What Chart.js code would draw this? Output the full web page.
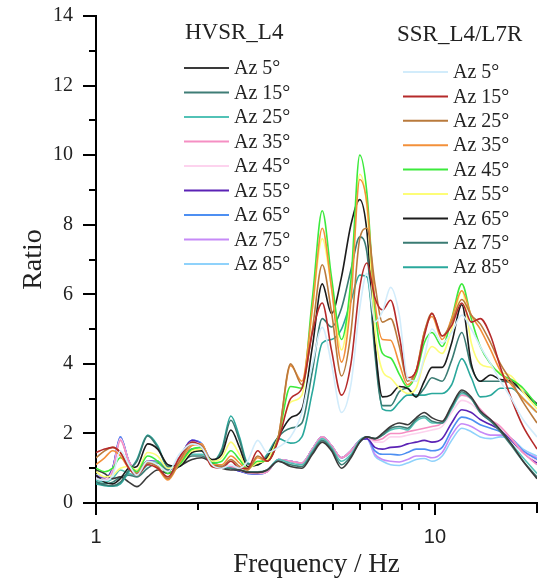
<!DOCTYPE html>
<html lang="en">
<head>
  <meta charset="UTF-8">
  <title>HVSR_L4 / SSR_L4/L7R ratio</title>
  <style>
    html, body { margin: 0; padding: 0; background: #fff; }
    .chart-box { width: 542px; height: 580px; }
  </style>
</head>
<body>
  <div class="chart-box"><canvas id="ratio-chart" width="542" height="580"></canvas></div>

  <script src="https://cdn.jsdelivr.net/npm/chart.js@4.4.0/dist/chart.umd.min.js"></script>
  <script>
    // frequency grid (Hz)
    const FREQ = [
      1.0, 1.06, 1.12, 1.18, 1.25, 1.32, 1.42, 1.52, 1.63, 1.76,
      1.92, 2.05, 2.2, 2.35, 2.5, 2.65, 2.8, 3.0, 3.2, 3.45,
      3.75, 4.05, 4.35, 4.65, 4.95, 5.3, 5.65, 6.0, 6.3, 6.65,
      7.0, 7.4, 7.85, 8.3, 8.8, 9.3, 9.8, 10.5, 11.2, 12.0,
      12.8, 13.6, 14.6, 15.6, 16.8, 18.2, 20
    ];

    const AZ_LABELS = ['Az 5°', 'Az 15°', 'Az 25°', 'Az 35°', 'Az 45°', 'Az 55°', 'Az 65°', 'Az 75°', 'Az 85°'];
    const HVSR_TITLE = 'HVSR_L4';
    const SSR_TITLE = 'SSR_L4/L7R';
    const HVSR_COLORS = ['#3a3a3a', '#3f7d76', '#52c2b6', '#f58fc3', '#fdd3ee', '#5b22b5', '#4d8ff2', '#c68af7', '#8fd2fb'];
    const SSR_COLORS = ['#d2ecfb', '#b52a2a', '#b97a3c', '#f3903a', '#3cea3c', '#fdfd77', '#1c1c1c', '#3a7b73', '#2aa89c'];

    const Y_TICKS = [0, 1, 2, 3, 4, 5, 6, 7, 8, 9, 10, 11, 12, 13, 14];
    const X_TICKS = [1, 2, 3, 4, 5, 6, 7, 8, 9, 10, 20];
    const X_LABELED = [1, 10];

    // HVSR_L4
    const HVSR_AZ5 = [
      0.95, 0.85, 0.70, 0.75, 0.60, 0.47, 0.75, 0.95, 0.85, 1.05,
      1.25, 1.30, 1.15, 1.00, 0.95, 0.95, 0.88, 0.88, 0.95, 1.20,
      1.05, 1.00, 1.40, 1.75, 1.50, 1.00, 1.30, 1.75, 1.90, 1.85,
      2.00, 2.20, 2.30, 2.25, 2.45, 2.60, 2.45, 2.35, 2.80, 3.25,
      3.05, 2.65, 2.40, 2.10, 1.70, 1.20, 0.70
    ];
    const HVSR_AZ15 = [
      0.60, 0.55, 0.60, 0.75, 0.80, 0.75, 1.00, 1.15, 0.95, 1.10,
      1.35, 1.35, 1.15, 1.00, 1.00, 0.95, 0.90, 0.88, 0.95, 1.20,
      1.10, 1.05, 1.45, 1.80, 1.55, 1.10, 1.35, 1.75, 1.90, 1.85,
      1.95, 2.15, 2.20, 2.15, 2.40, 2.50, 2.35, 2.30, 2.75, 3.20,
      3.00, 2.60, 2.35, 2.05, 1.65, 1.20, 0.75
    ];
    const HVSR_AZ25 = [
      0.65, 0.60, 0.70, 0.95, 0.85, 0.80, 1.10, 1.20, 1.00, 1.15,
      1.40, 1.40, 1.20, 1.05, 1.00, 0.95, 0.90, 0.90, 0.95, 1.25,
      1.15, 1.10, 1.50, 1.85, 1.60, 1.20, 1.40, 1.80, 1.90, 1.85,
      1.95, 2.10, 2.15, 2.10, 2.35, 2.45, 2.30, 2.30, 2.70, 3.15,
      3.00, 2.60, 2.35, 2.10, 1.70, 1.30, 0.85
    ];
    const HVSR_AZ35 = [
      0.70, 0.65, 0.90, 1.80, 1.20, 0.90, 1.15, 1.20, 0.95, 1.30,
      1.70, 1.60, 1.15, 1.05, 1.05, 0.95, 0.88, 0.86, 0.90, 1.25,
      1.20, 1.15, 1.55, 1.90, 1.65, 1.30, 1.50, 1.80, 1.90, 1.80,
      1.85, 2.00, 2.00, 2.05, 2.10, 2.15, 2.20, 2.30, 2.75, 3.10,
      3.00, 2.70, 2.40, 2.20, 1.85, 1.45, 1.10
    ];
    const HVSR_AZ45 = [
      0.72, 0.68, 0.95, 1.85, 1.20, 0.90, 1.15, 1.20, 0.95, 1.30,
      1.75, 1.65, 1.15, 1.05, 1.05, 0.95, 0.87, 0.85, 0.90, 1.25,
      1.20, 1.15, 1.55, 1.90, 1.65, 1.30, 1.50, 1.80, 1.90, 1.75,
      1.75, 1.90, 1.90, 1.95, 2.00, 2.05, 2.10, 2.20, 2.60, 2.95,
      2.85, 2.60, 2.35, 2.15, 1.85, 1.45, 1.20
    ];
    const HVSR_AZ55 = [
      0.75, 0.70, 1.00, 1.85, 1.20, 0.90, 1.20, 1.20, 0.92, 1.30,
      1.80, 1.65, 1.15, 1.05, 1.00, 0.92, 0.86, 0.84, 0.90, 1.25,
      1.20, 1.15, 1.55, 1.90, 1.65, 1.30, 1.50, 1.80, 1.85, 1.60,
      1.55, 1.60, 1.62, 1.70, 1.75, 1.80, 1.75, 1.85, 2.30, 2.68,
      2.60, 2.40, 2.25, 2.10, 1.80, 1.45, 1.15
    ];
    const HVSR_AZ65 = [
      0.75, 0.70, 1.00, 1.90, 1.20, 0.90, 1.20, 1.20, 0.92, 1.30,
      1.80, 1.70, 1.15, 1.05, 1.00, 0.92, 0.85, 0.83, 0.90, 1.25,
      1.20, 1.15, 1.55, 1.90, 1.65, 1.30, 1.50, 1.80, 1.85, 1.50,
      1.40, 1.40, 1.38, 1.45, 1.55, 1.55, 1.50, 1.60, 2.10, 2.47,
      2.40, 2.25, 2.15, 2.05, 1.85, 1.50, 1.25
    ];
    const HVSR_AZ75 = [
      0.80, 0.72, 1.00, 1.90, 1.20, 0.90, 1.20, 1.20, 0.92, 1.30,
      1.80, 1.70, 1.15, 1.05, 1.00, 0.92, 0.85, 0.83, 0.90, 1.25,
      1.20, 1.15, 1.55, 1.90, 1.65, 1.30, 1.50, 1.80, 1.85, 1.40,
      1.25, 1.20, 1.18, 1.25, 1.35, 1.35, 1.30, 1.45, 1.95, 2.28,
      2.20, 2.05, 1.95, 1.95, 1.85, 1.50, 1.30
    ];
    const HVSR_AZ85 = [
      0.82, 0.75, 1.00, 1.88, 1.20, 0.90, 1.20, 1.20, 0.92, 1.30,
      1.80, 1.70, 1.15, 1.05, 1.00, 0.92, 0.85, 0.83, 0.90, 1.25,
      1.20, 1.15, 1.55, 1.90, 1.65, 1.30, 1.50, 1.80, 1.85, 1.35,
      1.20, 1.10, 1.08, 1.15, 1.25, 1.28, 1.20, 1.35, 1.80, 2.15,
      2.05, 1.90, 1.85, 1.90, 1.85, 1.55, 1.35
    ];

    // SSR_L4/L7R
    const SSR_AZ5 = [
      0.70, 0.65, 0.80, 1.50, 1.10, 0.80, 1.20, 1.10, 0.90, 1.40,
      1.70, 1.60, 1.10, 1.00, 1.10, 1.00, 1.20, 1.80, 1.45, 1.60,
      1.90, 2.60, 4.00, 5.05, 4.00, 2.60, 3.40, 5.60, 6.60, 5.20,
      5.50, 6.20, 5.40, 3.60, 3.50, 4.20, 5.00, 4.60, 4.90, 5.40,
      5.00, 4.50, 4.00, 3.50, 3.00, 2.40, 1.90
    ];
    const SSR_AZ15 = [
      1.45, 1.55, 1.60, 1.45, 1.00, 0.80, 1.10, 1.00, 0.75, 1.30,
      1.75, 1.60, 1.05, 1.00, 1.20, 1.00, 1.00, 1.50, 1.20, 1.80,
      3.00, 3.30, 4.90, 5.75, 4.40, 3.10, 4.00, 6.20, 6.90, 5.90,
      5.55, 5.83, 4.80, 3.60, 3.80, 4.80, 5.45, 4.80, 5.10, 5.75,
      5.20, 5.30, 4.80, 3.90, 3.00, 2.20, 1.55
    ];
    const SSR_AZ25 = [
      1.30, 1.50, 1.60, 1.45, 1.05, 0.85, 1.15, 1.05, 0.70, 1.20,
      1.70, 1.65, 1.05, 1.05, 1.25, 1.05, 0.95, 1.35, 1.20, 1.90,
      4.00, 3.40, 5.00, 6.85, 5.50, 3.65, 4.90, 7.60, 7.90, 6.30,
      5.20, 5.30, 4.50, 3.50, 3.80, 4.90, 5.45, 4.80, 5.20, 5.85,
      5.40, 5.15, 4.60, 4.00, 3.50, 2.90, 2.30
    ];
    const SSR_AZ35 = [
      1.10, 1.30, 1.50, 1.35, 1.00, 0.85, 1.20, 1.00, 0.66, 1.15,
      1.65, 1.70, 1.10, 1.10, 1.35, 1.15, 0.95, 1.30, 1.20, 1.90,
      3.95, 3.50, 5.60, 7.90, 6.20, 4.05, 5.80, 9.30, 8.60, 5.80,
      4.70, 4.68, 4.00, 3.40, 3.80, 4.90, 5.36, 4.70, 5.30, 6.10,
      5.40, 5.00, 4.40, 3.80, 3.40, 3.00, 2.60
    ];
    const SSR_AZ45 = [
      1.00, 0.90, 1.00, 1.30, 1.10, 0.90, 1.35, 1.20, 0.85, 1.10,
      1.55, 1.60, 1.15, 1.20, 1.50, 1.25, 0.98, 1.20, 1.20, 1.90,
      3.35, 3.30, 5.90, 8.40, 6.50, 4.70, 6.40, 10.00, 8.90, 5.60,
      4.30, 4.17, 3.70, 3.34, 3.70, 4.60, 4.90, 4.50, 5.30, 6.30,
      5.30, 4.50, 4.00, 3.70, 3.55, 3.30, 2.80
    ];
    const SSR_AZ55 = [
      0.90, 0.75, 0.80, 1.00, 1.05, 0.95, 1.45, 1.35, 1.00, 1.10,
      1.50, 1.55, 1.20, 1.30, 1.75, 1.40, 1.00, 1.15, 1.25, 1.90,
      2.90, 3.10, 5.60, 7.60, 6.20, 4.40, 6.20, 9.45, 8.50, 5.00,
      3.80, 3.59, 3.30, 3.15, 3.30, 4.10, 4.50, 4.30, 5.00, 6.10,
      4.60, 4.00, 3.90, 3.75, 3.65, 3.20, 2.70
    ];
    const SSR_AZ65 = [
      0.80, 0.60, 0.55, 0.70, 1.00, 1.05, 1.70, 1.55, 1.10, 1.05,
      1.45, 1.50, 1.25, 1.40, 2.10, 1.60, 1.05, 1.10, 1.30, 1.90,
      2.45, 2.70, 4.50, 6.30, 5.45, 6.50, 8.00, 8.72, 7.80, 4.60,
      3.05, 3.10, 3.35, 3.30, 3.05, 3.50, 3.90, 3.90, 4.60, 5.70,
      4.00, 3.50, 3.68, 3.55, 3.50, 3.20, 2.85
    ];
    const SSR_AZ75 = [
      0.60, 0.52, 0.50, 0.60, 0.95, 1.20, 1.93, 1.60, 1.05, 1.10,
      1.55, 1.50, 1.20, 1.50, 2.38, 1.80, 1.12, 1.10, 1.35, 1.90,
      2.15, 2.30, 3.80, 5.30, 5.06, 5.60, 6.70, 7.65, 7.20, 4.30,
      2.80, 2.80, 3.20, 3.30, 3.05, 3.30, 3.60, 3.50, 4.10, 4.90,
      3.90, 3.50, 3.50, 3.50, 3.45, 3.20, 2.80
    ];
    const SSR_AZ85 = [
      0.55, 0.50, 0.48, 0.55, 0.90, 1.25, 1.95, 1.65, 1.03, 1.15,
      1.55, 1.50, 1.20, 1.55, 2.50, 1.90, 1.15, 1.10, 1.40, 1.85,
      1.72, 1.90, 3.20, 4.60, 4.70, 5.00, 5.80, 6.55, 6.50, 4.50,
      2.70, 2.65, 2.90, 3.10, 3.10, 3.10, 3.15, 3.15, 3.40, 4.15,
      3.60, 3.05, 3.10, 3.30, 3.30, 3.00, 2.60
    ];

    const HVSR_SERIES = [HVSR_AZ5, HVSR_AZ15, HVSR_AZ25, HVSR_AZ35, HVSR_AZ45, HVSR_AZ55, HVSR_AZ65, HVSR_AZ75, HVSR_AZ85];
    const SSR_SERIES = [SSR_AZ5, SSR_AZ15, SSR_AZ25, SSR_AZ35, SSR_AZ45, SSR_AZ55, SSR_AZ65, SSR_AZ75, SSR_AZ85];

    const SERIF = '"Liberation Serif", "Times New Roman", serif';
    const SANS = '"Liberation Sans", Arial, sans-serif';

    function toPoints(values) {
      return values.map((v, i) => ({ x: FREQ[i], y: v }));
    }

    function makeDataset(group, label, values, color) {
      return {
        label: group + ' ' + label,
        data: toPoints(values),
        borderColor: color,
        backgroundColor: color,
        borderWidth: 1.6,
        pointRadius: 0,
        cubicInterpolationMode: 'monotone',
        fill: false
      };
    }

    const datasets = [];
    SSR_SERIES.forEach((s, i) => datasets.push(makeDataset('SSR', AZ_LABELS[i], s, SSR_COLORS[i])));
    HVSR_SERIES.forEach((s, i) => datasets.push(makeDataset('HVSR', AZ_LABELS[i], s, HVSR_COLORS[i])));

    // outward tick marks: long for labelled values, short for the others
    const axisTicks = {
      id: 'axisTicks',
      afterDraw(chart) {
        const ctx = chart.ctx;
        const xs = chart.scales.x;
        const ys = chart.scales.y;
        ctx.save();
        ctx.strokeStyle = '#000';
        ctx.lineWidth = 2;
        for (const v of Y_TICKS) {
          const py = Math.round(ys.getPixelForValue(v));
          const len = v % 2 === 0 ? 13 : 7;
          ctx.beginPath();
          ctx.moveTo(xs.left - len, py);
          ctx.lineTo(xs.left, py);
          ctx.stroke();
        }
        for (const v of X_TICKS) {
          const px = Math.round(xs.getPixelForValue(v));
          const len = X_LABELED.includes(v) ? 12 : (v === 20 ? 10 : 7);
          ctx.beginPath();
          ctx.moveTo(px, ys.bottom);
          ctx.lineTo(px, ys.bottom + len);
          ctx.stroke();
        }
        ctx.restore();
      }
    };

    // two legend blocks drawn inside the plot
    const LEGEND_BLOCKS = [
      { title: HVSR_TITLE, colors: HVSR_COLORS, titleX: 185, titleY: 33, lineX: 184, firstY: 68, step: 24.5 },
      { title: SSR_TITLE, colors: SSR_COLORS, titleX: 397, titleY: 35, lineX: 403, firstY: 72, step: 24.4 }
    ];
    const groupLegend = {
      id: 'groupLegend',
      afterDraw(chart) {
        const ctx = chart.ctx;
        ctx.save();
        ctx.fillStyle = '#222';
        ctx.textBaseline = 'middle';
        ctx.textAlign = 'left';
        for (const b of LEGEND_BLOCKS) {
          ctx.font = '23px ' + SERIF;
          ctx.fillText(b.title, b.titleX, b.titleY);
          ctx.font = '20px ' + SERIF;
          AZ_LABELS.forEach((lab, i) => {
            const y = b.firstY + i * b.step;
            ctx.strokeStyle = b.colors[i];
            ctx.lineWidth = 2;
            ctx.beginPath();
            ctx.moveTo(b.lineX, y);
            ctx.lineTo(b.lineX + 45, y);
            ctx.stroke();
            ctx.fillText(lab, b.lineX + 50, y + 1);
          });
        }
        ctx.restore();
      }
    };

    const ctx = document.getElementById('ratio-chart');
    new Chart(ctx, {
      type: 'line',
      data: { datasets },
      plugins: [axisTicks, groupLegend],
      options: {
        responsive: false,
        animation: false,
        layout: { padding: { top: 16, right: 5, left: 0, bottom: 0 } },
        plugins: {
          legend: { display: false },
          tooltip: { enabled: false }
        },
        scales: {
          x: {
            type: 'logarithmic',
            min: 1,
            max: 20,
            afterFit: (scale) => {
              scale.height = 77;
              scale.paddingLeft = 0;
              scale.paddingRight = 0;
            },
            afterBuildTicks: (scale) => { scale.ticks = X_TICKS.map(v => ({ value: v })); },
            grid: { display: true, drawOnChartArea: false, drawTicks: false },
            border: { display: true, color: '#000', width: 2 },
            ticks: {
              autoSkip: false,
              maxRotation: 0,
              padding: 22,
              color: '#222',
              font: { family: SANS, size: 20 },
              callback: (v) => X_LABELED.includes(v) ? String(v) : ''
            },
            title: {
              display: true,
              text: 'Frequency / Hz',
              color: '#222',
              padding: { top: 0, bottom: 2 },
              font: { family: SERIF, size: 27, lineHeight: 1 }
            }
          },
          y: {
            min: 0,
            max: 14,
            afterFit: (scale) => {
              scale.width = 96;
              scale.paddingTop = 0;
              scale.paddingBottom = 0;
            },
            grid: { display: true, drawOnChartArea: false, drawTicks: false },
            border: { display: true, color: '#000', width: 2 },
            ticks: {
              stepSize: 2,
              padding: 23,
              color: '#222',
              font: { family: SERIF, size: 20 }
            },
            title: {
              display: true,
              text: 'Ratio',
              color: '#222',
              padding: { top: 20, bottom: 0 },
              font: { family: SERIF, size: 28, lineHeight: 1 }
            }
          }
        }
      }
    });
  </script>
</body>
</html>
